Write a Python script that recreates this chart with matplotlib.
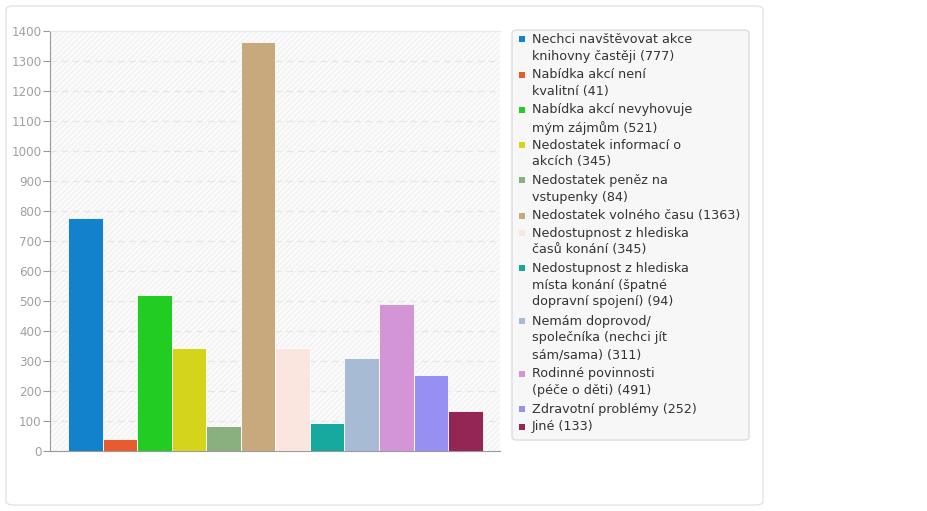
import numpy as np
import matplotlib
matplotlib.use('Agg')
import matplotlib.pyplot as plt
from matplotlib.patches import FancyBboxPatch, Rectangle

# data
labels = ['Nechci navštěvovat akce\nknihovny častěji',
          'Nabídka akcí není\nkvalitní',
          'Nabídka akcí nevyhovuje\nmým zájmům',
          'Nedostatek informací o\nakcích',
          'Nedostatek peněz na\nvstupenky',
          'Nedostatek volného času',
          'Nedostupnost z hlediska\nčasů konání',
          'Nedostupnost z hlediska\nmísta konání (špatné\ndopravní spojení)',
          'Nemám doprovod/\nspolečníka (nechci jít\nsám/sama)',
          'Rodinné povinnosti\n(péče o děti)',
          'Zdravotní problémy',
          'Jiné']
values = [777, 41, 521, 345, 84, 1363, 345, 94, 311, 491, 252, 133]
colors = ['#1382cc', '#e65c30', '#22cc22', '#d4d41c', '#8ab07f', '#c8a97e',
          '#fbe6df', '#17a89e', '#a8bbd4', '#d395d6', '#9690f2', '#932655']
yticks = np.arange(0, 1401, 100)

W, H = 928, 511
fig = plt.figure(figsize=(W / 100, H / 100), dpi=100)

# outer card
card = FancyBboxPatch((6 / W, 6 / H), 757 / W, 499 / H,
                      boxstyle='round,pad=0,rounding_size=0.008',
                      transform=fig.transFigure, facecolor='white',
                      edgecolor='#e4e4e4', linewidth=1.0, zorder=-5)
fig.patches.append(card)

ax = fig.add_axes([50 / W, 60 / H, 450 / W, 420 / H])
ax.set_zorder(2)
ax.set_facecolor('#fbfbfb')
# hatched background
bg = Rectangle((0, 0), 1, 1, transform=ax.transAxes, facecolor='none',
               edgecolor='#f1f1f1', hatch='//////', linewidth=0, zorder=0)
ax.add_patch(bg)

x = np.arange(len(values))
ax.bar(x, values, width=1.0, color=colors, edgecolor='#ffffff', linewidth=0.6, zorder=3)

ax.set_xlim(-1.02, 12.0)
ax.set_ylim(0, 1400)
ax.set_yticks(yticks)
ax.set_xticks([])
ax.yaxis.grid(True, linestyle=(0, (5, 4)), color='#e6e6e6', linewidth=0.9, zorder=1)
ax.set_axisbelow(True)

ax.spines['right'].set_visible(False)
ax.spines['top'].set_color('#e8e8e8')
ax.spines['left'].set_color('#999999')
ax.spines['bottom'].set_color('#999999')
ax.tick_params(axis='y', colors='#999999', labelcolor='#a0a0a0', labelsize=8.6,
               length=5, width=0.8, pad=1)

# legend box
lx0, ly0, lw, lh = 512, 30, 237, 410
lbox = FancyBboxPatch((lx0 / W, 1 - (ly0 + lh) / H), lw / W, lh / H,
                      boxstyle='round,pad=0,rounding_size=0.006',
                      transform=fig.transFigure, facecolor='#f7f7f7',
                      edgecolor='#dddddd', linewidth=1.0, zorder=1)
fig.patches.append(lbox)

line_h = 17.6
y = 39.5
for lab, val, col in zip(labels, values, colors):
    text = f'{lab} ({val})'
    fig.patches.append(Rectangle((518.5 / W, 1 - (y + 3) / H), 6 / W, 6 / H,
                                 transform=fig.transFigure, facecolor=col,
                                 edgecolor='none', zorder=2))
    fig.text(532 / W, 1 - (y - 6.5) / H, text, fontsize=9.2, color='#333333',
             va='top', ha='left', linespacing=1.38, zorder=3)
    y += line_h * (text.count('\n') + 1)

fig.savefig('out.png', dpi=100)
